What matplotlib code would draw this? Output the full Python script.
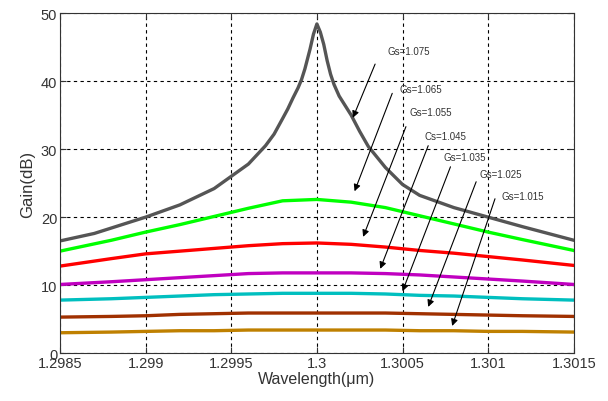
import numpy as np
import matplotlib
matplotlib.use('Agg')
import matplotlib.pyplot as plt

plt.rcParams['font.family'] = ['Liberation Sans', 'DejaVu Sans']

# wavelength (um) and gain (dB)
wl_gray = [1.2985, 1.2987, 1.299, 1.2992, 1.2994, 1.2995, 1.2996, 1.2997, 1.29975,
           1.2998, 1.29983, 1.29986, 1.29989, 1.29991, 1.29993, 1.29996, 1.29998,
           1.3, 1.30002, 1.30004, 1.30006, 1.30008, 1.3001, 1.30013, 1.30016,
           1.3002, 1.30025, 1.3003, 1.3004, 1.3005, 1.3006, 1.3008, 1.301,
           1.3012, 1.3015]
g_1075 = [16.5, 17.6, 20.0, 21.8, 24.2, 26.0, 27.8, 30.5, 32.2,
          34.5, 35.9, 37.5, 39.0, 40.2, 41.8, 44.7, 46.9,
          48.4, 47.2, 45.4, 43.0, 41.0, 39.5, 37.8, 36.6,
          35.0, 32.6, 30.4, 27.3, 24.8, 23.2, 21.4, 20.0,
          18.6, 16.6]

wl = [1.2985, 1.2988, 1.299, 1.2992, 1.2994, 1.2996, 1.2998, 1.3, 1.3002,
      1.3004, 1.3006, 1.3008, 1.301, 1.3012, 1.3015]
g_1065 = [15.0, 16.6, 17.8, 18.9, 20.1, 21.3, 22.4, 22.6, 22.2,
          21.4, 20.2, 19.0, 17.8, 16.7, 15.1]
g_1055 = [12.8, 13.9, 14.6, 15.0, 15.4, 15.8, 16.1, 16.2, 16.0,
          15.6, 15.1, 14.7, 14.2, 13.7, 12.9]
g_1045 = [10.1, 10.5, 10.8, 11.1, 11.4, 11.7, 11.8, 11.8, 11.8,
          11.7, 11.5, 11.2, 10.9, 10.6, 10.1]
g_1035 = [7.8, 8.0, 8.2, 8.4, 8.6, 8.7, 8.8, 8.8, 8.8,
          8.7, 8.5, 8.4, 8.2, 8.0, 7.8]
g_1025 = [5.3, 5.4, 5.5, 5.7, 5.8, 5.9, 5.9, 5.9, 5.9,
          5.9, 5.8, 5.7, 5.6, 5.5, 5.4]
g_1015 = [3.0, 3.1, 3.2, 3.3, 3.3, 3.4, 3.4, 3.4, 3.4,
          3.4, 3.3, 3.3, 3.2, 3.2, 3.1]

labels = ['Gs=1.075', 'Gs=1.065', 'Gs=1.055', 'Cs=1.045', 'Gs=1.035', 'Gs=1.025', 'Gs=1.015']
# label anchor, arrow tail and arrow head (data units)
label_xy = [(1.30041, 44.4), (1.30048, 38.8), (1.30054, 35.4), (1.30063, 31.9),
            (1.30074, 28.8), (1.30095, 26.3), (1.30108, 23.1)]
tail_xy = [(1.30034, 42.5), (1.30044, 38.2), (1.30052, 33.3), (1.30065, 30.5),
           (1.30078, 27.4), (1.30093, 25.2), (1.30104, 22.7)]
head_xy = [(1.30021, 34.6), (1.30022, 23.8), (1.30027, 17.1), (1.30037, 12.4),
           (1.30050, 9.1), (1.30065, 6.8), (1.30079, 4.0)]

colors = ['#555555', '#00ff00', '#ff0000', '#c000c0', '#00bfbf', '#a03000', '#bf8000']

fig = plt.figure(figsize=(6.08, 4.02), dpi=100)
ax = fig.add_axes([0.0987, 0.119, 0.845, 0.846])

ax.plot(wl_gray, g_1075, color=colors[0], lw=2.4, solid_joinstyle='round')
for g, c in zip([g_1065, g_1055, g_1045, g_1035, g_1025, g_1015], colors[1:]):
    ax.plot(wl, g, color=c, lw=2.4)

for lab, t, a, h in zip(labels, label_xy, tail_xy, head_xy):
    ax.text(t[0], t[1], lab, fontsize=7, color='#333333', va='center', ha='left')
    ax.annotate('', xy=h, xytext=a,
                arrowprops=dict(arrowstyle='-|>', color='black', lw=0.8,
                                mutation_scale=10, shrinkA=0, shrinkB=0))

ax.set_xlim(1.2985, 1.3015)
ax.set_ylim(0, 50)
ax.set_xticks([1.2985, 1.299, 1.2995, 1.3, 1.3005, 1.301, 1.3015])
ax.set_xticklabels(['1.2985', '1.299', '1.2995', '1.3', '1.3005', '1.301', '1.3015'])
ax.set_yticks([0, 10, 20, 30, 40, 50])
ax.tick_params(direction='in', labelsize=10.5, top=True, right=True, length=4,
               colors='#333333', pad=2)
ax.grid(True, color='black', linestyle=(0, (3, 3)), linewidth=0.8)
for s in ax.spines.values():
    s.set_color('#333333')
ax.set_xlabel('Wavelength(μm)', fontsize=11.5, color='#333333', labelpad=1)
ax.set_ylabel('Gain(dB)', fontsize=12, color='#333333', labelpad=4)

plt.savefig('out.png', dpi=100)
